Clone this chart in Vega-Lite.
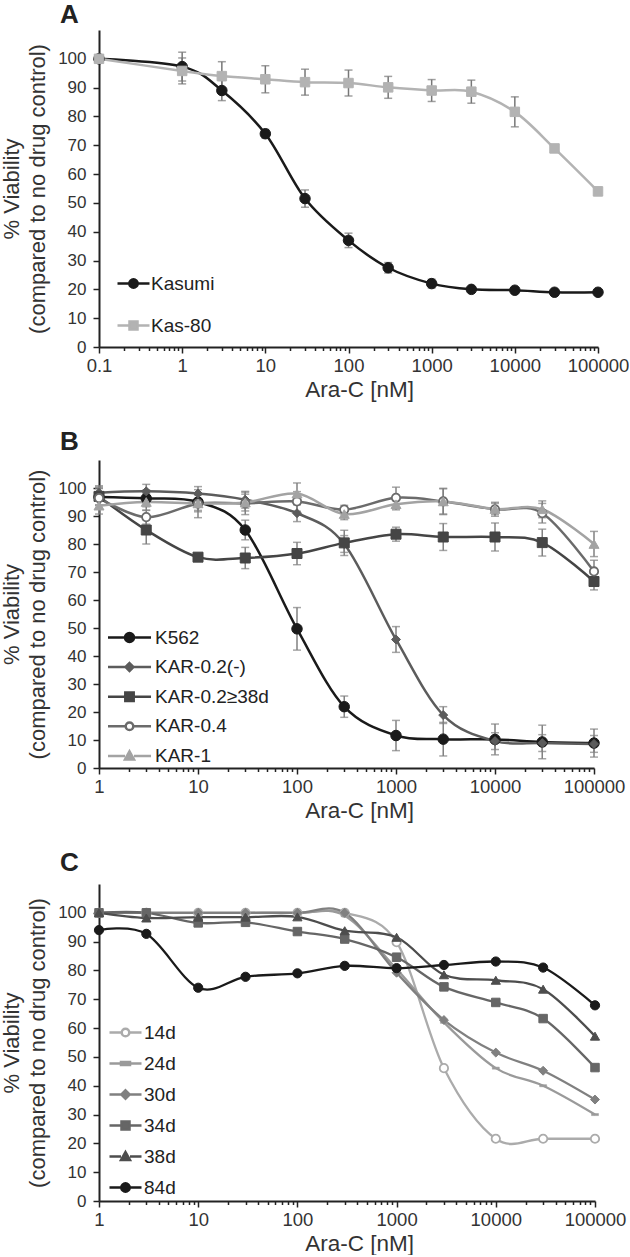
{
  "$schema": "https://vega.github.io/schema/vega-lite/v6.json",
  "padding": {"left": 0, "top": 1, "right": 0, "bottom": 0},
  "background": "white",
  "spacing": 28,
  "resolve": {"scale": {"stroke": "independent"}, "legend": {"stroke": "independent"}},
  "config": {
    "font": "Liberation Sans",
    "view": {"stroke": null},
    "axis": {"grid": false, "domainColor": "#222", "domainWidth": 2, "tickColor": "#222", "tickWidth": 1.5, "labelColor": "#333", "titleColor": "#333", "titleFontWeight": "normal", "labelOverlap": false, "labelFlush": false, "labelBound": false},
    "axisX": {"labelFontSize": 18.5, "titleFontSize": 22.5, "labelPadding": 3, "titlePadding": 4, "titleX": 260, "titleAlign": "center"},
    "axisY": {"labelFontSize": 17, "titleFontSize": 22, "titleLineHeight": 26, "tickSize": 6, "labelPadding": 7, "titlePadding": 8},
    "title": {"fontSize": 26, "fontWeight": "bold", "anchor": "start", "color": "#222", "frame": "group"}
  },
  "datasets": {
    "a": [
      {"s": "Kasumi", "x": 0.1, "v": 100, "e": 0},
      {"s": "Kasumi", "x": 1, "v": 97.3, "e": 5},
      {"s": "Kasumi", "x": 3, "v": 89, "e": 3.5},
      {"s": "Kasumi", "x": 10, "v": 74, "e": 1.5},
      {"s": "Kasumi", "x": 30, "v": 51.5, "e": 3},
      {"s": "Kasumi", "x": 100, "v": 37, "e": 2.5},
      {"s": "Kasumi", "x": 300, "v": 27.5, "e": 1.8},
      {"s": "Kasumi", "x": 1000, "v": 22, "e": 1.5},
      {"s": "Kasumi", "x": 3000, "v": 20, "e": 0.7},
      {"s": "Kasumi", "x": 10000, "v": 19.7, "e": 0.6},
      {"s": "Kasumi", "x": 30000, "v": 19, "e": 0.6},
      {"s": "Kasumi", "x": 100000, "v": 19, "e": 0.6},
      {"s": "Kas-80", "x": 0.1, "v": 100, "e": 0},
      {"s": "Kas-80", "x": 1, "v": 95.8, "e": 4.5},
      {"s": "Kas-80", "x": 3, "v": 94, "e": 5},
      {"s": "Kas-80", "x": 10, "v": 92.9, "e": 4.7},
      {"s": "Kas-80", "x": 30, "v": 91.9, "e": 4.5},
      {"s": "Kas-80", "x": 100, "v": 91.6, "e": 4.5},
      {"s": "Kas-80", "x": 300, "v": 90.1, "e": 3.8},
      {"s": "Kas-80", "x": 1000, "v": 89, "e": 3.8},
      {"s": "Kas-80", "x": 3000, "v": 88.6, "e": 4},
      {"s": "Kas-80", "x": 10000, "v": 81.6, "e": 5.2},
      {"s": "Kas-80", "x": 30000, "v": 68.9, "e": 1},
      {"s": "Kas-80", "x": 100000, "v": 54, "e": 1.4}
    ],
    "b": [
      {"s": "K562", "x": 1, "v": 96.8, "e": 3},
      {"s": "K562", "x": 3, "v": 96.3, "e": 3},
      {"s": "K562", "x": 10, "v": 95, "e": 3},
      {"s": "K562", "x": 30, "v": 85, "e": 3.5},
      {"s": "K562", "x": 100, "v": 49.7, "e": 7.6},
      {"s": "K562", "x": 300, "v": 21.9, "e": 3.8},
      {"s": "K562", "x": 1000, "v": 11.6, "e": 5.4},
      {"s": "K562", "x": 3000, "v": 10.3, "e": 6},
      {"s": "K562", "x": 10000, "v": 10.2, "e": 5.5},
      {"s": "K562", "x": 30000, "v": 9.3, "e": 6},
      {"s": "K562", "x": 100000, "v": 8.9, "e": 5},
      {"s": "KAR-0.2(-)", "x": 1, "v": 98.3, "e": 2.5},
      {"s": "KAR-0.2(-)", "x": 3, "v": 98.8, "e": 2.5},
      {"s": "KAR-0.2(-)", "x": 10, "v": 98, "e": 2.5},
      {"s": "KAR-0.2(-)", "x": 30, "v": 95.8, "e": 3},
      {"s": "KAR-0.2(-)", "x": 100, "v": 91, "e": 3},
      {"s": "KAR-0.2(-)", "x": 300, "v": 80, "e": 3},
      {"s": "KAR-0.2(-)", "x": 1000, "v": 45.9, "e": 4.6},
      {"s": "KAR-0.2(-)", "x": 3000, "v": 18.9, "e": 3},
      {"s": "KAR-0.2(-)", "x": 10000, "v": 9.6, "e": 3},
      {"s": "KAR-0.2(-)", "x": 30000, "v": 8.9, "e": 3},
      {"s": "KAR-0.2(-)", "x": 100000, "v": 8.6, "e": 3},
      {"s": "KAR-0.2≥38d", "x": 1, "v": 97, "e": 3},
      {"s": "KAR-0.2≥38d", "x": 3, "v": 85, "e": 5},
      {"s": "KAR-0.2≥38d", "x": 10, "v": 75.3, "e": 1},
      {"s": "KAR-0.2≥38d", "x": 30, "v": 75, "e": 3.8},
      {"s": "KAR-0.2≥38d", "x": 100, "v": 76.6, "e": 4},
      {"s": "KAR-0.2≥38d", "x": 300, "v": 80.4, "e": 4.5},
      {"s": "KAR-0.2≥38d", "x": 1000, "v": 83.5, "e": 2.5},
      {"s": "KAR-0.2≥38d", "x": 3000, "v": 82.5, "e": 4.8},
      {"s": "KAR-0.2≥38d", "x": 10000, "v": 82.5, "e": 5},
      {"s": "KAR-0.2≥38d", "x": 30000, "v": 80.5, "e": 4.8},
      {"s": "KAR-0.2≥38d", "x": 100000, "v": 66.6, "e": 3},
      {"s": "KAR-0.4", "x": 1, "v": 96.4, "e": 4},
      {"s": "KAR-0.4", "x": 3, "v": 89.6, "e": 2.5},
      {"s": "KAR-0.4", "x": 10, "v": 94.4, "e": 5},
      {"s": "KAR-0.4", "x": 30, "v": 94.5, "e": 4},
      {"s": "KAR-0.4", "x": 100, "v": 95.2, "e": 3.5},
      {"s": "KAR-0.4", "x": 300, "v": 92.3, "e": 1.5},
      {"s": "KAR-0.4", "x": 1000, "v": 96.5, "e": 3.8},
      {"s": "KAR-0.4", "x": 3000, "v": 95.2, "e": 4.5},
      {"s": "KAR-0.4", "x": 10000, "v": 92.4, "e": 2.5},
      {"s": "KAR-0.4", "x": 30000, "v": 91, "e": 3.5},
      {"s": "KAR-0.4", "x": 100000, "v": 70.2, "e": 4},
      {"s": "KAR-1", "x": 1, "v": 93.7, "e": 3},
      {"s": "KAR-1", "x": 3, "v": 95, "e": 3},
      {"s": "KAR-1", "x": 10, "v": 94.5, "e": 3},
      {"s": "KAR-1", "x": 30, "v": 94.8, "e": 3},
      {"s": "KAR-1", "x": 100, "v": 98, "e": 3.8},
      {"s": "KAR-1", "x": 300, "v": 90.7, "e": 2},
      {"s": "KAR-1", "x": 1000, "v": 94.2, "e": 2},
      {"s": "KAR-1", "x": 3000, "v": 95.2, "e": 4.7},
      {"s": "KAR-1", "x": 10000, "v": 92.5, "e": 2},
      {"s": "KAR-1", "x": 30000, "v": 92.4, "e": 3},
      {"s": "KAR-1", "x": 100000, "v": 80, "e": 4.5}
    ],
    "c": [
      {"s": "14d", "x": 1, "v": 100},
      {"s": "14d", "x": 3, "v": 100},
      {"s": "14d", "x": 10, "v": 100},
      {"s": "14d", "x": 30, "v": 100},
      {"s": "14d", "x": 100, "v": 100},
      {"s": "14d", "x": 300, "v": 100},
      {"s": "14d", "x": 1000, "v": 89.8},
      {"s": "14d", "x": 3000, "v": 46.1},
      {"s": "14d", "x": 10000, "v": 21.6},
      {"s": "14d", "x": 30000, "v": 21.6},
      {"s": "14d", "x": 100000, "v": 21.6},
      {"s": "24d", "x": 1, "v": 100},
      {"s": "24d", "x": 3, "v": 100},
      {"s": "24d", "x": 10, "v": 100},
      {"s": "24d", "x": 30, "v": 100},
      {"s": "24d", "x": 100, "v": 100},
      {"s": "24d", "x": 300, "v": 99},
      {"s": "24d", "x": 1000, "v": 80.5},
      {"s": "24d", "x": 3000, "v": 62},
      {"s": "24d", "x": 10000, "v": 46.1},
      {"s": "24d", "x": 30000, "v": 40},
      {"s": "24d", "x": 100000, "v": 30},
      {"s": "30d", "x": 1, "v": 100},
      {"s": "30d", "x": 3, "v": 100},
      {"s": "30d", "x": 10, "v": 100},
      {"s": "30d", "x": 30, "v": 100},
      {"s": "30d", "x": 100, "v": 100},
      {"s": "30d", "x": 300, "v": 100},
      {"s": "30d", "x": 1000, "v": 79.2},
      {"s": "30d", "x": 3000, "v": 62.8},
      {"s": "30d", "x": 10000, "v": 51.5},
      {"s": "30d", "x": 30000, "v": 45.2},
      {"s": "30d", "x": 100000, "v": 35.2},
      {"s": "34d", "x": 1, "v": 100},
      {"s": "34d", "x": 3, "v": 100},
      {"s": "34d", "x": 10, "v": 96.5},
      {"s": "34d", "x": 30, "v": 96.7},
      {"s": "34d", "x": 100, "v": 93.5},
      {"s": "34d", "x": 300, "v": 90.9},
      {"s": "34d", "x": 1000, "v": 84.6},
      {"s": "34d", "x": 3000, "v": 74.3},
      {"s": "34d", "x": 10000, "v": 68.9},
      {"s": "34d", "x": 30000, "v": 63.3},
      {"s": "34d", "x": 100000, "v": 46.3},
      {"s": "38d", "x": 1, "v": 100},
      {"s": "38d", "x": 3, "v": 98.2},
      {"s": "38d", "x": 10, "v": 98.5},
      {"s": "38d", "x": 30, "v": 98.5},
      {"s": "38d", "x": 100, "v": 98.6},
      {"s": "38d", "x": 300, "v": 93.8},
      {"s": "38d", "x": 1000, "v": 91.5},
      {"s": "38d", "x": 3000, "v": 78.5},
      {"s": "38d", "x": 10000, "v": 76.6},
      {"s": "38d", "x": 30000, "v": 73.5},
      {"s": "38d", "x": 100000, "v": 57.2},
      {"s": "84d", "x": 1, "v": 94},
      {"s": "84d", "x": 3, "v": 92.7},
      {"s": "84d", "x": 10, "v": 74},
      {"s": "84d", "x": 30, "v": 77.8},
      {"s": "84d", "x": 100, "v": 79},
      {"s": "84d", "x": 300, "v": 81.6},
      {"s": "84d", "x": 1000, "v": 80.8},
      {"s": "84d", "x": 3000, "v": 81.9},
      {"s": "84d", "x": 10000, "v": 83.1},
      {"s": "84d", "x": 30000, "v": 81},
      {"s": "84d", "x": 100000, "v": 67.9}
    ]
  },
  "vconcat": [
    {
      "width": 499, "height": 317,
      "title": {"text": "A", "dx": -39, "offset": 2.5},
      "data": {"name": "a"},
      "encoding": {
        "x": {"field": "x", "type": "quantitative", "scale": {"type": "log", "domain": [0.1, 100000], "nice": false},
          "axis": {"title": "Ara-C [nM]",
            "values": [0.1,0.2,0.3,0.4,0.5,0.6,0.7,0.8,0.9,1,2,3,4,5,6,7,8,9,10,20,30,40,50,60,70,80,90,100,200,300,400,500,600,700,800,900,1000,2000,3000,4000,5000,6000,7000,8000,9000,10000,20000,30000,40000,50000,60000,70000,80000,90000,100000],
            "labelExpr": "indexof([0.1,1,10,100,1000,10000,100000], datum.value) >= 0 ? '' + datum.value : ''",
            "tickSize": {"condition": {"test": "indexof([0.1,1,10,100,1000,10000,100000], datum.value) >= 0", "value": 6}, "value": 3.5}}},
        "y": {"field": "v", "type": "quantitative", "scale": {"domain": [0, 110], "nice": false},
          "axis": {"title": ["% Viability", "(compared to no drug control)"], "values": [0,10,20,30,40,50,60,70,80,90,100]}}
      },
      "layer": [
        {"transform": [{"filter": "datum.e > 0"}],
         "mark": {"type": "errorbar", "ticks": {"size": 8, "color": "#777", "strokeWidth": 1.5}, "color": "#777", "thickness": 1.5},
         "encoding": {"yError": {"field": "e"}}},
        {"mark": {"type": "line", "interpolate": "cardinal", "strokeWidth": 2.5},
         "encoding": {"stroke": {"field": "s", "type": "nominal", "scale": {"domain": ["Kasumi", "Kas-80"], "range": ["#1a1a1a", "#b3b3b3"]},
           "legend": {"title": null, "orient": "none", "legendX": 23, "legendY": 242, "symbolSize": 400, "symbolStrokeWidth": 2.5, "labelFontSize": 19, "labelColor": "#222", "labelOffset": 6, "rowPadding": 20, "padding": 0, "symbolOpacity": 1,
             "encode": {"symbols": {"update": {
               "shape": {"signal": "{'Kasumi':'M-1.6,0H-0.42M0.42,0H1.6M-0.42,0A0.42,0.42 0 1,0 0.42,0A0.42,0.42 0 1,0 -0.42,0Z','Kas-80':'M-1.6,0H-0.4M0.4,0H1.6M-0.4,-0.4H0.4V0.4H-0.4Z'}[datum.value]"},
               "fill": {"signal": "{'Kasumi':'#1a1a1a','Kas-80':'#b3b3b3'}[datum.value]"},
               "stroke": {"signal": "{'Kasumi':'#1a1a1a','Kas-80':'#b3b3b3'}[datum.value]"},
               "strokeWidth": {"value": 2.5}, "opacity": {"value": 1}}}}}}}},
        {"transform": [{"filter": "datum.s === 'Kasumi'"}], "mark": {"type": "point", "shape": "circle", "size": 110, "filled": true, "fill": "#1a1a1a", "stroke": "#1a1a1a", "strokeWidth": 1, "opacity": 1}},
        {"transform": [{"filter": "datum.s === 'Kas-80'"}], "mark": {"type": "point", "shape": "square", "size": 90, "filled": true, "fill": "#b3b3b3", "stroke": "#b3b3b3", "strokeWidth": 1, "opacity": 1}}
      ]
    },
    {
      "width": 495, "height": 308,
      "title": {"text": "B", "dx": -39, "offset": 5},
      "data": {"name": "b"},
      "encoding": {
        "x": {"field": "x", "type": "quantitative", "scale": {"type": "log", "domain": [1, 100000], "nice": false},
          "axis": {"title": "Ara-C [nM]",
            "values": [1,2,3,4,5,6,7,8,9,10,20,30,40,50,60,70,80,90,100,200,300,400,500,600,700,800,900,1000,2000,3000,4000,5000,6000,7000,8000,9000,10000,20000,30000,40000,50000,60000,70000,80000,90000,100000],
            "labelExpr": "indexof([1,10,100,1000,10000,100000], datum.value) >= 0 ? '' + datum.value : ''",
            "tickSize": {"condition": {"test": "indexof([1,10,100,1000,10000,100000], datum.value) >= 0", "value": 6}, "value": 3.5}}},
        "y": {"field": "v", "type": "quantitative", "scale": {"domain": [0, 110], "nice": false},
          "axis": {"title": ["% Viability", "(compared to no drug control)"], "values": [0,10,20,30,40,50,60,70,80,90,100]}}
      },
      "layer": [
        {"transform": [{"filter": "datum.e > 0"}],
         "mark": {"type": "errorbar", "ticks": {"size": 8, "color": "#808080", "strokeWidth": 1.5}, "color": "#808080", "thickness": 1.5},
         "encoding": {"yError": {"field": "e"}}},
        {"mark": {"type": "line", "interpolate": "cardinal", "strokeWidth": 2.5},
         "encoding": {"stroke": {"field": "s", "type": "nominal", "scale": {"domain": ["K562", "KAR-0.2(-)", "KAR-0.2≥38d", "KAR-0.4", "KAR-1"], "range": ["#1a1a1a", "#5c5c5c", "#454545", "#6b6b6b", "#a3a3a3"]},
           "legend": {"title": null, "orient": "none", "legendX": 19, "legendY": 166, "symbolSize": 400, "symbolStrokeWidth": 2.5, "labelFontSize": 19, "labelColor": "#222", "labelOffset": 14, "rowPadding": 7.6, "padding": 0, "symbolOpacity": 1,
             "encode": {"symbols": {"update": {
               "shape": {"signal": "{'K562':'M-2.15,0H-0.45M0.45,0H2.15M-0.45,0A0.45,0.45 0 1,0 0.45,0A0.45,0.45 0 1,0 -0.45,0Z','KAR-0.2(-)':'M-2.15,0H-0.4M0.4,0H2.15M0,-0.4L0.4,0L0,0.4L-0.4,0Z','KAR-0.2≥38d':'M-2.15,0H-0.42M0.42,0H2.15M-0.42,-0.42H0.42V0.42H-0.42Z','KAR-0.4':'M-2.15,0H-0.38M0.38,0H2.15M-0.38,0A0.38,0.38 0 1,0 0.38,0A0.38,0.38 0 1,0 -0.38,0Z','KAR-1':'M-2.15,0H-0.45M0.45,0H2.15M0,-0.45L0.45,0.35H-0.45Z'}[datum.value]"},
               "fill": {"signal": "{'K562':'#1a1a1a','KAR-0.2(-)':'#5c5c5c','KAR-0.2≥38d':'#454545','KAR-0.4':'#ffffff','KAR-1':'#a3a3a3'}[datum.value]"},
               "stroke": {"signal": "{'K562':'#1a1a1a','KAR-0.2(-)':'#5c5c5c','KAR-0.2≥38d':'#454545','KAR-0.4':'#6b6b6b','KAR-1':'#a3a3a3'}[datum.value]"},
               "strokeWidth": {"value": 2.5}, "opacity": {"value": 1}}}}}}}},
        {"transform": [{"filter": "datum.s === 'K562'"}], "mark": {"type": "point", "shape": "circle", "size": 110, "filled": true, "fill": "#1a1a1a", "stroke": "#1a1a1a", "strokeWidth": 1, "opacity": 1}},
        {"transform": [{"filter": "datum.s === 'KAR-0.2(-)'"}], "mark": {"type": "point", "shape": "diamond", "size": 81, "filled": true, "fill": "#5c5c5c", "stroke": "#5c5c5c", "strokeWidth": 1, "opacity": 1}},
        {"transform": [{"filter": "datum.s === 'KAR-0.2≥38d'"}], "mark": {"type": "point", "shape": "square", "size": 100, "filled": true, "fill": "#454545", "stroke": "#454545", "strokeWidth": 1, "opacity": 1}},
        {"transform": [{"filter": "datum.s === 'KAR-0.4'"}], "mark": {"type": "point", "shape": "circle", "size": 70, "filled": true, "fill": "#ffffff", "stroke": "#6b6b6b", "strokeWidth": 1.8, "opacity": 1}},
        {"transform": [{"filter": "datum.s === 'KAR-1'"}], "mark": {"type": "point", "shape": "triangle-up", "size": 100, "filled": true, "fill": "#a3a3a3", "stroke": "#a3a3a3", "strokeWidth": 1, "opacity": 1}}
      ]
    },
    {
      "width": 496, "height": 317,
      "title": {"text": "C", "dx": -39, "offset": 8},
      "data": {"name": "c"},
      "encoding": {
        "x": {"field": "x", "type": "quantitative", "scale": {"type": "log", "domain": [1, 100000], "nice": false},
          "axis": {"title": "Ara-C [nM]",
            "values": [1,2,3,4,5,6,7,8,9,10,20,30,40,50,60,70,80,90,100,200,300,400,500,600,700,800,900,1000,2000,3000,4000,5000,6000,7000,8000,9000,10000,20000,30000,40000,50000,60000,70000,80000,90000,100000],
            "labelExpr": "indexof([1,10,100,1000,10000,100000], datum.value) >= 0 ? '' + datum.value : ''",
            "tickSize": {"condition": {"test": "indexof([1,10,100,1000,10000,100000], datum.value) >= 0", "value": 6}, "value": 3.5}}},
        "y": {"field": "v", "type": "quantitative", "scale": {"domain": [0, 110], "nice": false},
          "axis": {"title": ["% Viability", "(compared to no drug control)"], "values": [0,10,20,30,40,50,60,70,80,90,100]}}
      },
      "layer": [
        {"mark": {"type": "line", "interpolate": "cardinal", "strokeWidth": 2.3},
         "encoding": {"stroke": {"field": "s", "type": "nominal", "scale": {"domain": ["14d", "24d", "30d", "34d", "38d", "84d"], "range": ["#ababab", "#9a9a9a", "#808080", "#666666", "#4d4d4d", "#1a1a1a"]},
           "legend": {"title": null, "orient": "none", "legendX": 15, "legendY": 137, "symbolSize": 400, "symbolStrokeWidth": 2.5, "labelFontSize": 19, "labelColor": "#222", "labelOffset": 7, "rowPadding": 9, "padding": 0, "symbolOpacity": 1,
             "encode": {"symbols": {"update": {
               "shape": {"signal": "{'14d':'M-1.6,0H-0.38M0.38,0H1.6M-0.38,0A0.38,0.38 0 1,0 0.38,0A0.38,0.38 0 1,0 -0.38,0Z','24d':'M-1.6,0H1.6M-0.45,-0.15H0.45V0.15H-0.45Z','30d':'M-1.6,0H-0.42M0.42,0H1.6M0,-0.42L0.42,0L0,0.42L-0.42,0Z','34d':'M-1.6,0H-0.4M0.4,0H1.6M-0.4,-0.4H0.4V0.4H-0.4Z','38d':'M-1.6,0H-0.45M0.45,0H1.6M0,-0.45L0.45,0.35H-0.45Z','84d':'M-1.6,0H-0.42M0.42,0H1.6M-0.42,0A0.42,0.42 0 1,0 0.42,0A0.42,0.42 0 1,0 -0.42,0Z'}[datum.value]"},
               "fill": {"signal": "{'14d':'#ffffff','24d':'#9a9a9a','30d':'#808080','34d':'#666666','38d':'#4d4d4d','84d':'#1a1a1a'}[datum.value]"},
               "stroke": {"signal": "{'14d':'#ababab','24d':'#9a9a9a','30d':'#808080','34d':'#666666','38d':'#4d4d4d','84d':'#1a1a1a'}[datum.value]"},
               "strokeWidth": {"value": 2.5}, "opacity": {"value": 1}}}}}}}},
        {"transform": [{"filter": "datum.s === '14d'"}], "mark": {"type": "point", "shape": "circle", "size": 70, "filled": true, "fill": "#ffffff", "stroke": "#ababab", "strokeWidth": 1.8, "opacity": 1}},
        {"transform": [{"filter": "datum.s === '24d'"}], "mark": {"type": "point", "shape": "M-1,-0.3H1V0.3H-1Z", "size": 49, "filled": true, "fill": "#9a9a9a", "stroke": "#9a9a9a", "strokeWidth": 0.5, "opacity": 1}},
        {"transform": [{"filter": "datum.s === '30d'"}], "mark": {"type": "point", "shape": "diamond", "size": 80, "filled": true, "fill": "#808080", "stroke": "#808080", "strokeWidth": 1, "opacity": 1}},
        {"transform": [{"filter": "datum.s === '34d'"}], "mark": {"type": "point", "shape": "square", "size": 72, "filled": true, "fill": "#666666", "stroke": "#666666", "strokeWidth": 1, "opacity": 1}},
        {"transform": [{"filter": "datum.s === '38d'"}], "mark": {"type": "point", "shape": "triangle-up", "size": 85, "filled": true, "fill": "#4d4d4d", "stroke": "#4d4d4d", "strokeWidth": 1, "opacity": 1}},
        {"transform": [{"filter": "datum.s === '84d'"}], "mark": {"type": "point", "shape": "circle", "size": 85, "filled": true, "fill": "#1a1a1a", "stroke": "#1a1a1a", "strokeWidth": 1, "opacity": 1}}
      ]
    }
  ]
}
